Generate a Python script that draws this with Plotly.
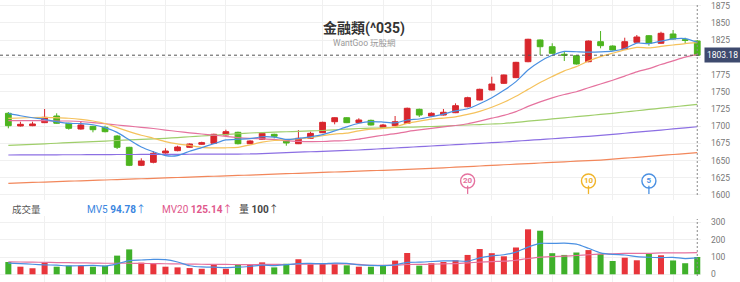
import plotly.graph_objects as go

# ---------------- data ----------------
idx = list(range(58))

opens = [1718.7, 1700.3, 1700.7, 1705.1, 1714.8, 1704.2, 1695.9, 1699.8, 1698.4, 1685.7,
         1669.3, 1643.1, 1647.5, 1661.0, 1664.4, 1669.3, 1673.7, 1675.1, 1687.2, 1691.1,
         1674.5, 1680.9, 1688.2, 1679.5, 1674.5, 1682.4, 1690.5, 1706.5, 1712.3, 1705.1,
         1708.5, 1698.4, 1700.7, 1703.9, 1724.5, 1714.8, 1716.2, 1719.6, 1728.3, 1738.1,
         1752.6, 1762.3, 1770.5, 1793.7, 1825.3, 1815.5, 1804.5, 1802.4, 1793.7, 1822.8,
         1816.5, 1812.2, 1821.9, 1831.5, 1820.5, 1834.0, 1825.7, 1823.8]
highs = [1720.6, 1706.5, 1706.5, 1725.0, 1718.7, 1705.0, 1707.5, 1700.5, 1700.7, 1687.0,
         1670.0, 1653.3, 1663.9, 1667.9, 1671.6, 1675.0, 1677.4, 1689.0, 1694.9, 1692.0,
         1679.5, 1691.1, 1689.0, 1680.5, 1694.4, 1692.0, 1706.5, 1713.0, 1713.0, 1711.5,
         1709.5, 1703.2, 1714.8, 1727.0, 1725.5, 1720.2, 1725.0, 1733.2, 1742.8, 1754.5,
         1771.9, 1775.0, 1793.5, 1827.0, 1826.0, 1820.5, 1808.3, 1803.0, 1824.5, 1838.3,
         1817.5, 1828.6, 1832.5, 1832.5, 1837.3, 1839.8, 1828.6, 1825.0]
lows = [1696.9, 1699.5, 1700.0, 1704.5, 1703.5, 1694.9, 1695.0, 1691.1, 1691.0, 1666.8,
        1642.0, 1642.0, 1646.0, 1660.0, 1663.5, 1668.5, 1673.0, 1674.5, 1686.5, 1673.5,
        1674.0, 1680.0, 1682.4, 1671.6, 1674.0, 1681.5, 1690.0, 1702.7, 1704.5, 1704.5,
        1701.0, 1698.0, 1700.0, 1703.5, 1713.3, 1714.0, 1715.5, 1719.0, 1727.5, 1737.5,
        1752.0, 1761.5, 1770.0, 1793.0, 1803.5, 1805.0, 1794.7, 1789.5, 1793.0, 1813.2,
        1810.0, 1811.5, 1821.0, 1817.0, 1820.0, 1826.0, 1820.5, 1802.5]
closes = [1700.7, 1702.7, 1703.2, 1712.9, 1704.2, 1696.9, 1701.7, 1694.9, 1692.0, 1669.3,
          1643.1, 1649.4, 1660.6, 1663.9, 1669.7, 1674.1, 1676.0, 1688.2, 1692.0, 1674.5,
          1678.5, 1689.6, 1685.3, 1675.6, 1682.4, 1689.6, 1705.6, 1712.3, 1705.1, 1709.0,
          1701.7, 1701.7, 1706.5, 1726.0, 1716.2, 1718.7, 1720.2, 1729.8, 1741.4, 1753.6,
          1761.3, 1774.4, 1792.8, 1826.3, 1815.5, 1805.9, 1803.0, 1790.4, 1823.8, 1817.0,
          1810.7, 1822.8, 1829.6, 1820.5, 1835.0, 1826.7, 1824.8, 1803.18]

ma5 = [1718.7, 1715.2, 1712.3, 1710.0, 1706.5, 1704.0, 1703.8, 1702.1, 1697.9, 1691.0,
       1680.2, 1669.7, 1662.9, 1657.3, 1657.3, 1663.5, 1668.9, 1674.4, 1680.0, 1681.0,
       1681.8, 1684.6, 1684.0, 1680.7, 1682.3, 1684.5, 1687.7, 1693.1, 1699.0, 1704.3,
       1706.7, 1706.0, 1704.8, 1709.0, 1710.4, 1713.8, 1717.5, 1722.2, 1725.3, 1732.7,
       1741.3, 1752.1, 1764.7, 1781.7, 1794.1, 1803.0, 1808.7, 1808.2, 1807.7, 1808.0,
       1809.0, 1812.9, 1820.8, 1820.1, 1823.7, 1826.9, 1827.3, 1822.0]
ma10 = [1711.2, 1711.9, 1712.6, 1712.9, 1712.2, 1711.5, 1710.0, 1707.5, 1703.9, 1697.9,
        1692.1, 1686.8, 1682.5, 1677.6, 1674.2, 1671.9, 1669.3, 1668.6, 1668.6, 1669.2,
        1672.7, 1676.7, 1679.2, 1680.4, 1681.6, 1683.2, 1686.1, 1688.5, 1689.9, 1693.3,
        1695.6, 1696.8, 1699.0, 1704.0, 1707.4, 1710.3, 1711.7, 1713.5, 1717.1, 1721.6,
        1727.5, 1734.8, 1743.4, 1753.5, 1763.4, 1772.1, 1780.4, 1786.5, 1794.7, 1801.0,
        1806.0, 1810.8, 1814.5, 1813.9, 1815.9, 1818.0, 1820.1, 1821.4]
ma20 = [1708.0, 1708.0, 1708.0, 1708.0, 1707.5, 1707.5, 1706.8, 1705.3, 1703.5, 1701.7,
        1700.0, 1698.4, 1696.6, 1694.4, 1692.3, 1690.4, 1688.6, 1686.9, 1685.3, 1683.5,
        1682.4, 1681.7, 1680.8, 1679.0, 1677.9, 1677.5, 1677.7, 1678.6, 1679.2, 1681.2,
        1684.2, 1686.8, 1689.1, 1692.2, 1694.5, 1696.7, 1698.9, 1701.0, 1703.5, 1707.4,
        1711.6, 1715.8, 1721.2, 1728.7, 1735.4, 1741.2, 1746.1, 1750.0, 1755.9, 1761.3,
        1766.8, 1772.8, 1779.0, 1783.7, 1789.6, 1795.0, 1800.3, 1803.9]
ma60 = [1672.0, 1672.8, 1673.6, 1674.4, 1675.2, 1676.0, 1676.8, 1677.6, 1678.4, 1679.2,
        1680.0, 1680.8, 1681.6, 1682.4, 1683.5, 1684.6, 1685.7, 1686.8, 1687.9, 1689.0,
        1690.1, 1690.7, 1691.3, 1691.9, 1692.5, 1693.1, 1693.7, 1694.7, 1695.6, 1696.6,
        1697.1, 1697.6, 1698.1, 1698.5, 1699.0, 1699.5, 1700.2, 1701.0, 1701.7, 1702.4,
        1703.2, 1703.9, 1705.5, 1707.2, 1708.8, 1710.5, 1712.1, 1713.8, 1715.4, 1717.1,
        1718.7, 1720.6, 1722.4, 1724.3, 1726.2, 1728.0, 1729.9, 1731.8]
ma120 = [1658.1, 1658.2, 1658.2, 1658.3, 1658.4, 1658.5, 1658.5, 1658.6, 1658.7, 1658.8,
         1658.8, 1658.9, 1659.0, 1659.1, 1659.1, 1659.2, 1659.3, 1659.4, 1659.4, 1659.5,
         1659.6, 1660.2, 1660.9, 1661.5, 1662.2, 1662.8, 1663.4, 1664.1, 1664.7, 1665.4,
         1666.4, 1667.3, 1668.3, 1669.3, 1670.2, 1671.2, 1672.2, 1673.1, 1674.1, 1675.1,
         1676.0, 1677.0, 1678.2, 1679.4, 1680.6, 1681.7, 1682.9, 1684.1, 1685.3, 1686.5,
         1688.1, 1689.7, 1691.3, 1692.8, 1694.4, 1696.0, 1697.6, 1699.2]
ma240 = [1617.0, 1617.6, 1618.2, 1618.8, 1619.4, 1620.0, 1620.6, 1621.2, 1621.8, 1622.4,
         1623.0, 1623.6, 1624.2, 1624.8, 1625.4, 1626.0, 1626.6, 1627.2, 1627.8, 1628.4,
         1629.0, 1629.6, 1630.3, 1630.9, 1631.5, 1632.1, 1632.8, 1633.4, 1634.0, 1634.7,
         1635.3, 1635.9, 1636.5, 1637.2, 1637.8, 1638.7, 1639.5, 1640.4, 1641.3, 1642.1,
         1643.0, 1643.9, 1644.7, 1645.6, 1646.5, 1647.3, 1648.2, 1649.1, 1649.9, 1650.8,
         1652.1, 1653.5, 1654.8, 1656.1, 1657.5, 1658.8, 1660.2, 1661.5]

volume = [71, 44, 35, 69, 44, 50, 50, 44, 50, 108, 144, 67, 61, 44, 40, 36, 32, 54, 32, 54,
          54, 69, 40, 61, 87, 58, 61, 58, 52, 44, 44, 54, 79, 123, 50, 64, 71, 81, 112, 146,
          122, 104, 155, 260, 252, 122, 112, 126, 140, 119, 77, 96, 81, 120, 110, 80, 64, 100]
vol_mv5 = [65, 62, 58, 55, 52.6, 48.4, 49.6, 51.4, 47.6, 60.4, 79.2, 82.6, 86.0, 84.8, 71.2,
           49.6, 42.6, 41.2, 38.8, 41.6, 45.2, 52.6, 49.8, 55.6, 62.2, 63.0, 61.4, 65.0, 63.2,
           54.6, 51.8, 50.4, 54.6, 68.8, 70.0, 74.0, 77.4, 77.8, 75.6, 94.8, 106.4, 113.0,
           127.8, 157.4, 178.6, 178.6, 180.2, 174.4, 150.4, 123.8, 114.8, 111.6, 102.6, 98.6,
           96.8, 97.4, 91.0, 94.78]
vol_mv20 = [72, 71, 70, 69, 68, 67, 66, 65, 64, 64, 64, 63, 62, 61, 60, 59, 58, 57, 57,
            56.5, 55.6, 56.9, 57.1, 56.7, 58.9, 59.3, 59.8, 60.5, 60.6, 57.4, 52.4, 51.8,
            52.7, 56.6, 57.1, 58.5, 60.5, 61.8, 65.8, 70.4, 73.8, 75.6, 81.3, 91.3, 99.5,
            102.7, 105.3, 108.7, 113.1, 116.8, 118.5, 120.6, 120.7, 120.5, 123.5, 124.3,
            124.0, 125.14]

price_ticks = [1600, 1625, 1650, 1675, 1700, 1725, 1750, 1775, 1800, 1825, 1850, 1875]
price_tick_text = ["1600", "1625", "1650", "1675", "1700", "1725", "1750", "1775", "", "1825", "1850", "1875"]
vol_ticks = [0, 100, 200, 300]
week_grid = [3, 8, 13, 18, 26, 31, 35, 40, 45, 50, 55]
last_price = 1803.18
ma_markers = [("20", 38), ("10", 48), ("5", 53)]

title_text = "金融類(^035)"
subtitle_text = "WantGoo 玩股網"

# ---------------- styling ----------------
RED = "#d8262c"
GREEN = "#4db41f"
VRED = "#e8353b"
VGREEN = "#3fb02a"
C_MA5 = "#4a90e2"
C_MA10 = "#f5c25c"
C_MA20 = "#e5729e"
C_MA60 = "#9fce6a"
C_MA120 = "#8c6fe3"
C_MA240 = "#f2875b"
GRID = "#f0f0f0"
FONT = "Roboto, 'Noto Sans CJK TC', sans-serif"
H = 282.0
PW = 701.0

fig = go.Figure()

fig.add_trace(go.Candlestick(
    x=idx, open=opens, high=highs, low=lows, close=closes,
    increasing=dict(line=dict(color=RED, width=1), fillcolor=RED),
    decreasing=dict(line=dict(color=GREEN, width=1), fillcolor=GREEN),
    whiskerwidth=0, xaxis="x", yaxis="y", showlegend=False, hoverinfo="skip"))

for vals, col in [(ma240, C_MA240), (ma120, C_MA120), (ma60, C_MA60),
                  (ma20, C_MA20), (ma10, C_MA10), (ma5, C_MA5)]:
    fig.add_trace(go.Scatter(x=idx, y=vals, mode="lines",
                             line=dict(color=col, width=1.2, shape="spline", smoothing=0.6),
                             xaxis="x", yaxis="y", showlegend=False, hoverinfo="skip"))

# volume colour: close versus previous close
prev_close = [opens[0]] + closes[:-1]
vcolors = [VRED if c > p else VGREEN for p, c in zip(prev_close, closes)]
fig.add_trace(go.Bar(x=idx, y=volume, marker=dict(color=vcolors, line=dict(width=0)),
                     xaxis="x2", yaxis="y2", showlegend=False, hoverinfo="skip"))
fig.add_trace(go.Scatter(x=idx, y=vol_mv20, mode="lines",
                         line=dict(color=C_MA20, width=1.2, shape="spline", smoothing=0.6),
                         xaxis="x2", yaxis="y2", showlegend=False, hoverinfo="skip"))
fig.add_trace(go.Scatter(x=idx, y=vol_mv5, mode="lines",
                         line=dict(color=C_MA5, width=1.2, shape="spline", smoothing=0.6),
                         xaxis="x2", yaxis="y2", showlegend=False, hoverinfo="skip"))

# MA start markers
marker_cols = {"20": C_MA20, "10": "#f0b429", "5": C_MA5}
mk_price = 1620.3
shapes = []
for lab, ci in ma_markers:
    col = marker_cols[lab]
    shapes.append(dict(type="line", xref="x", yref="y", x0=ci, x1=ci,
                       y0=1601.5, y1=1613.5, line=dict(color=col, width=1.3)))
    fig.add_trace(go.Scatter(x=[ci], y=[mk_price], mode="markers+text", text=["<b>" + lab + "</b>"],
                             textposition="middle center",
                             textfont=dict(color=col, size=8, family=FONT),
                             marker=dict(size=14, color="white", line=dict(color=col, width=1.4)),
                             xaxis="x", yaxis="y", showlegend=False, hoverinfo="skip"))

# last-price dashed line and vertical crosshair (per panel)
shapes.append(dict(type="line", xref="paper", yref="y", x0=0, x1=1, y0=last_price, y1=last_price,
                   line=dict(color="#555555", width=1, dash="3px,3px")))
shapes.append(dict(type="line", xref="x", yref="paper", x0=57, x1=57, y0=(H - 195) / H, y1=(H - 4) / H,
                   line=dict(color="#888888", width=1, dash="2px,2px")))
shapes.append(dict(type="line", xref="x", yref="paper", x0=57, x1=57, y0=(H - 276) / H, y1=(H - 219) / H,
                   line=dict(color="#888888", width=1, dash="2px,2px")))

LEG_Y = (H - 209) / H
annotations = [
    dict(text="<b>" + title_text + "</b>", xref="paper", yref="paper", x=364 / PW, y=(H - 28) / H,
         showarrow=False, font=dict(size=14, color="#333333", family=FONT), xanchor="center", yanchor="middle"),
    dict(text=subtitle_text, xref="paper", yref="paper", x=364 / PW, y=(H - 43) / H,
         showarrow=False, font=dict(size=8.5, color="#999999", family=FONT), xanchor="center", yanchor="middle"),
    dict(text=f"{last_price:.2f}", xref="paper", yref="y", x=1, y=last_price, xanchor="left", yanchor="middle",
         xshift=3, showarrow=False, bgcolor="#3e4a6e", borderpad=2,
         font=dict(size=8.5, color="white", family=FONT)),
    dict(text="成交量", xref="paper", yref="paper", x=10 / PW, y=LEG_Y, xanchor="left",
         yanchor="middle", showarrow=False, font=dict(size=9.5, color="#555555", family=FONT)),
    dict(text=f"MV5 <b>{vol_mv5[-1]:.2f}</b>↑", xref="paper", yref="paper", x=85 / PW, y=LEG_Y,
         xanchor="left", yanchor="middle", showarrow=False, font=dict(size=10, color="#3b86e0", family=FONT)),
    dict(text=f"MV20 <b>{vol_mv20[-1]:.2f}</b>↑", xref="paper", yref="paper", x=160 / PW, y=LEG_Y,
         xanchor="left", yanchor="middle", showarrow=False, font=dict(size=10, color="#e0588c", family=FONT)),
    dict(text=f"量 <b>{volume[-1]}</b>↑", xref="paper", yref="paper", x=237 / PW, y=LEG_Y,
         xanchor="left", yanchor="middle", showarrow=False, font=dict(size=10, color="#444444", family=FONT)),
]

fig.update_layout(
    width=740, height=282, margin=dict(l=0, r=39, t=0, b=0),
    paper_bgcolor="white", plot_bgcolor="white",
    boxgap=0.32, bargap=0.5,
    font=dict(family=FONT),
    xaxis=dict(domain=[0, 1], range=[-0.69, 57.31], anchor="y", showticklabels=False,
               tickvals=week_grid, showgrid=True, gridcolor=GRID, zeroline=False,
               rangeslider=dict(visible=False), fixedrange=True),
    yaxis=dict(domain=[(H - 200) / H, 1], range=[1592.7, 1883.4], side="right", anchor="x",
               tickvals=price_ticks, ticktext=price_tick_text, showgrid=True, gridcolor=GRID,
               zeroline=False, ticks="", ticklabelstandoff=9,
               tickfont=dict(size=8.5, color="#777777", family=FONT)),
    xaxis2=dict(domain=[0, 1], range=[-0.69, 57.31], anchor="y2", matches="x", showticklabels=False,
                tickvals=week_grid, showgrid=True, gridcolor=GRID, zeroline=False),
    yaxis2=dict(domain=[0, (H - 216) / H], range=[-44.5, 337], side="right", anchor="x2",
                tickvals=vol_ticks, showgrid=True, gridcolor=GRID, zeroline=False, ticks="",
                ticklabelstandoff=9, tickfont=dict(size=8.5, color="#777777", family=FONT)),
    shapes=shapes, annotations=annotations,
)

fig.write_html("out.html")
